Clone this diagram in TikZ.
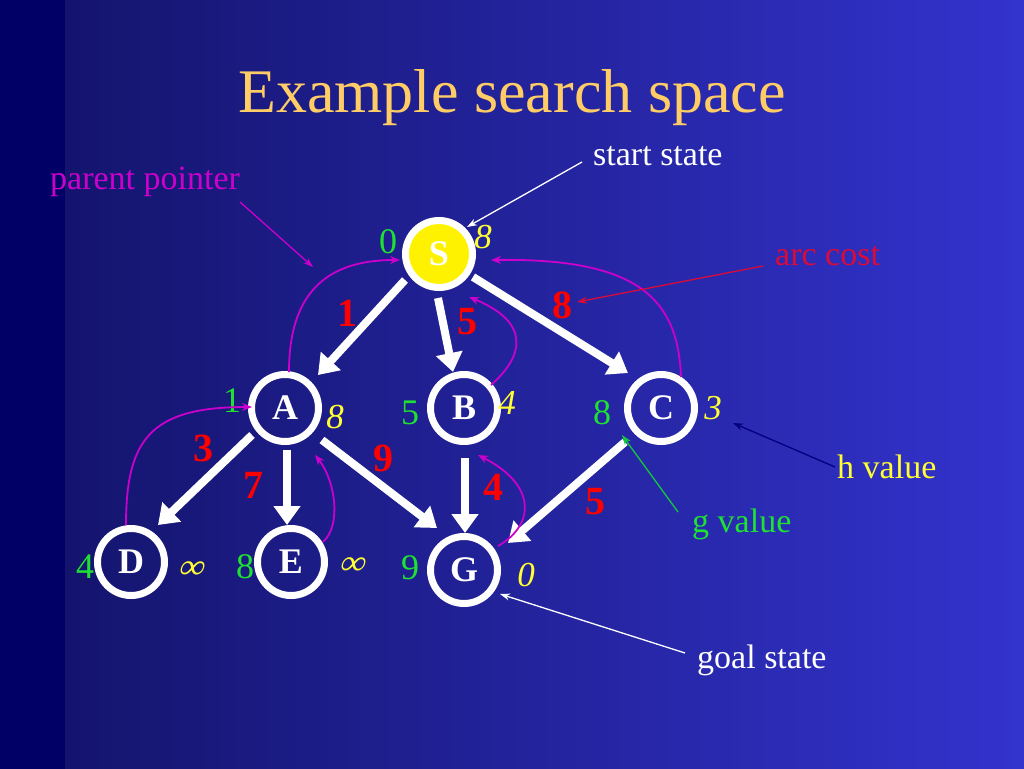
\documentclass[tikz,border=0pt]{standalone}
\usepackage{fontspec}
\setmainfont{Liberation Serif}
\usetikzlibrary{arrows.meta,calc}
\definecolor{bgnavy}{RGB}{0,0,102}
\definecolor{bgA}{RGB}{20,20,110}
\definecolor{bgB}{RGB}{44,44,184}
\definecolor{bgC}{RGB}{51,51,206}
\definecolor{titlecol}{RGB}{255,204,102}
\definecolor{gcol}{RGB}{30,225,50}
\definecolor{hcol}{RGB}{255,255,51}
\definecolor{costred}{RGB}{255,0,0}
\definecolor{arccol}{RGB}{220,10,55}
\definecolor{ppcol}{RGB}{204,0,204}
\definecolor{hptr}{RGB}{0,0,128}
\definecolor{gptr}{RGB}{20,200,60}
\begin{document}
\begin{tikzpicture}[x=1pt,y=-1pt,
  state/.style={circle, draw=white, line width=7pt, minimum size=67pt, inner sep=0pt,
    font=\fontsize{36}{40}\selectfont\bfseries, text=white},
  arc/.style={draw=white, line width=8pt, -{Triangle[length=19pt,width=26pt]}},
  cost/.style={text=costred, font=\fontsize{40}{44}\selectfont\bfseries, inner sep=0pt},
  gval/.style={text=gcol, font=\fontsize{36}{40}\selectfont, inner sep=0pt},
  hval/.style={text=hcol, font=\fontsize{35}{40}\selectfont\itshape, inner sep=0pt},
  inf/.style={hval, transform shape, xslant=0.3},
  note/.style={font=\fontsize{34}{40}\selectfont, inner sep=0pt, anchor=base west},
  pp/.style={draw=ppcol, line width=1.8pt, -{Stealth[length=10pt,width=8pt]}},
  pointer/.style={line width=1.3pt, -{Stealth[length=10pt,width=7pt]}}]
\useasboundingbox (0,0) rectangle (1024,768);
\shade[left color=bgA, middle color=bgB, right color=bgC] (64,-2) rectangle (1026,770);
\fill[bgnavy] (-2,-2) rectangle (65,770);

% title
\node[text=titlecol, font=\fontsize{62}{70}\selectfont, anchor=base, inner sep=0pt] (title) at (512,112) {Example search space};

% states
\node[state, fill=yellow] (S) at (439,254) {S};
\node[state] (A) at (285,408) {A};
\node[state] (B) at (464,408) {B};
\node[state] (C) at (661,408) {C};
\node[state] (D) at (131,562) {D};
\node[state] (E) at (291,562) {E};
\node[state] (G) at (464,570) {G};

% arcs
\draw[arc] ($(S)+(-34,26)$) -- ($(A)+(33,-33)$);
\draw[arc] ($(S)+(-1,44)$) -- ($(B)+(-11,-36)$);
\draw[arc] ($(S)+(34,23)$) -- ($(C)+(-33,-35)$);
\draw[arc] ($(A)+(-33,27)$) -- ($(D)+(27,-37)$);
\draw[arc] ($(A)+(2,42)$) -- ($(E)+(-4,-37)$);
\draw[arc] ($(A)+(37,32)$) -- ($(G)+(-27,-42)$);
\draw[arc] ($(B)+(1,50)$) -- ($(G)+(1,-37)$);
\draw[arc] ($(C)+(-36,34)$) -- ($(G)+(44,-27)$);

% arc costs
\node[cost] (c1) at (347,313) {1};
\node[cost] (c5a) at (467,322) {5};
\node[cost] (c8) at (562,305) {8};
\node[cost] (c3) at (203,448) {3};
\node[cost] (c7) at (253,485) {7};
\node[cost] (c9) at (383,458) {9};
\node[cost] (c4) at (493,487) {4};
\node[cost] (c5b) at (595,502) {5};

% g values
\node[gval] (gS) at (388,242) {0};
\node[gval] (gA) at (232,401) {1};
\node[gval] (gB) at (410,413) {5};
\node[gval] (gC) at (602,413) {8};
\node[gval] (gD) at (85,567) {4};
\node[gval] (gE) at (245,567) {8};
\node[gval] (gG) at (410,568) {9};

% h values
\node[hval] (hS) at (483,237) {8};
\node[hval] (hA) at (335,417) {8};
\node[hval] (hB) at (507,403) {4};
\node[hval] (hC) at (713,408) {3};
\node[inf] (hD) at (192,570) {∞};
\node[inf] (hE) at (353,566) {∞};
\node[hval] (hG) at (526,575) {0};

% parent pointers
\draw[pp] ($(A)+(4,-36)$) .. controls ($(A)+(4,-108)$) and ($(S)+(-119,6)$) .. ($(S)+(-39,6)$);
\draw[pp] ($(B)+(27,-23)$) .. controls ($(B)+(61,-53)$) and ($(S)+(91,68)$) .. ($(S)+(30,43)$);
\draw[pp] ($(C)+(20,-31)$) .. controls ($(C)+(17,-108)$) and ($(S)+(201,4)$) .. ($(S)+(52,6)$);
\draw[pp] ($(D)+(-5,-37)$) .. controls ($(D)+(-5,-122)$) and ($(A)+(-135,-1)$) .. ($(A)+(-33,-1)$);
\draw[pp] ($(E)+(32,-20)$) .. controls ($(E)+(51,-37)$) and ($(A)+(50,72)$) .. ($(A)+(30,47)$);
\draw[pp] ($(G)+(34,-24)$) .. controls ($(G)+(71,-45)$) and ($(B)+(73,77)$) .. ($(B)+(14,47)$);

% annotations
\node[note, text=ppcol] (lpp) at (50,189) {parent pointer};
\node[note, text=white] (lstart) at (593,165) {start state};
\node[note, text=arccol] (larc) at (775,265) {arc cost};
\node[note, text=hcol] (lh) at (837,478) {h value};
\node[note, text=gcol] (lg) at (692,532) {g value};
\node[note, text=white] (lgoal) at (697,668) {goal state};
\coordinate (ppt) at (313,267);

\draw[pointer, ppcol] ($(lpp.base west)+(190,13)$) -- (ppt);
\draw[pointer, white] ($(lstart.base west)+(-11,-3)$) -- ($(S)+(28,-27)$);
\draw[pointer, arccol] ($(larc.base west)+(-12,1)$) -- ($(c8)+(15,-3)$);
\draw[pointer, hptr] ($(lh.base west)+(-2,-11)$) -- ($(hC)+(20,15)$);
\draw[pointer, gptr] ($(lg.base west)+(-14,-20)$) -- ($(gC)+(20,22)$);
\draw[pointer, white] ($(lgoal.base west)+(-12,-15)$) -- ($(G)+(36,24)$);
\end{tikzpicture}
\end{document}
